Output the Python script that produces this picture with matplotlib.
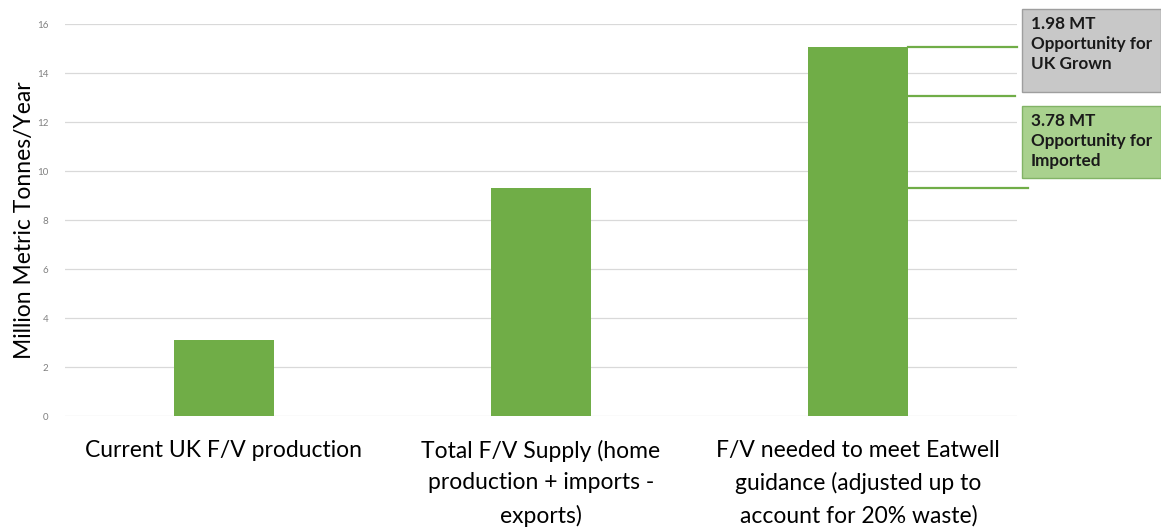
import matplotlib.pyplot as plt

categories = ["Current UK F/V production",
              "Total F/V Supply (home\nproduction + imports -\nexports)",
              "F/V needed to meet Eatwell\nguidance (adjusted up to\naccount for 20% waste)"]
values = [3.1, 9.3, 15.06]
# opportunity brackets on the third bar
opportunity_levels = [15.06, 13.08, 9.3]
opportunity_text = ["1.98 MT\nOpportunity for\nUK Grown", "3.78 MT\nOpportunity for\nImported"]
yticks = [0, 2, 4, 6, 8, 10, 12, 14, 16]

plt.rcParams['font.family'] = ['Lato', 'DejaVu Sans']

fig = plt.figure(figsize=(11.61, 5.27), dpi=100)
ax = fig.add_axes([0.056, 0.2106, 0.82, 0.7434])

x = range(len(categories))
ax.bar(x, values, width=0.315, color="#70ad47", zorder=3)

ax.set_xlim(-0.5, 2.5)
ax.set_ylim(0, 16)
ax.set_yticks(yticks)
ax.set_yticklabels([str(t) for t in yticks], fontsize=7, color="#808080")
ax.yaxis.grid(True, color="#d9d9d9", linewidth=0.9, zorder=0)
ax.tick_params(axis='y', length=0, pad=12)
ax.tick_params(axis='x', length=0, pad=17)
ax.set_xticks(list(x))
ax.set_xticklabels(categories, fontsize=16.5, color="#000000", linespacing=1.62)
for s in ax.spines.values():
    s.set_visible(False)
ax.set_ylabel("Million Metric Tonnes/Year", fontsize=16.5)
ax.yaxis.set_label_coords(-0.0315, 0.5)

# green bracket lines to the right of the last bar
bar_right = 2 + 0.315 / 2
ends = [2.5, 2.495, 2.535]
for lvl, e in zip(opportunity_levels, ends):
    ax.plot([bar_right, e], [lvl, lvl], color="#70ad47", linewidth=1.6,
            clip_on=False, zorder=4)

# annotation boxes
boxes = [
    (1022, 9, 139, 83, "#c8c8c8", "#9e9e9e"),
    (1022, 106, 139, 72, "#a9d18e", "#82b366"),
]
W, H = 1161, 527
for (bx, by, bw, bh, fc, ec), txt in zip(boxes, opportunity_text):
    rect = plt.Rectangle((bx / W, 1 - (by + bh) / H), bw / W, bh / H,
                         transform=fig.transFigure, facecolor=fc,
                         edgecolor=ec, linewidth=1)
    fig.patches.append(rect)
    fig.text((bx + 9) / W, 1 - (by + 7) / H, txt, fontsize=12.3,
             fontweight='bold', color="#1a1a1a", va='top', ha='left',
             linespacing=1.3)

fig.savefig("out.png", dpi=100)
